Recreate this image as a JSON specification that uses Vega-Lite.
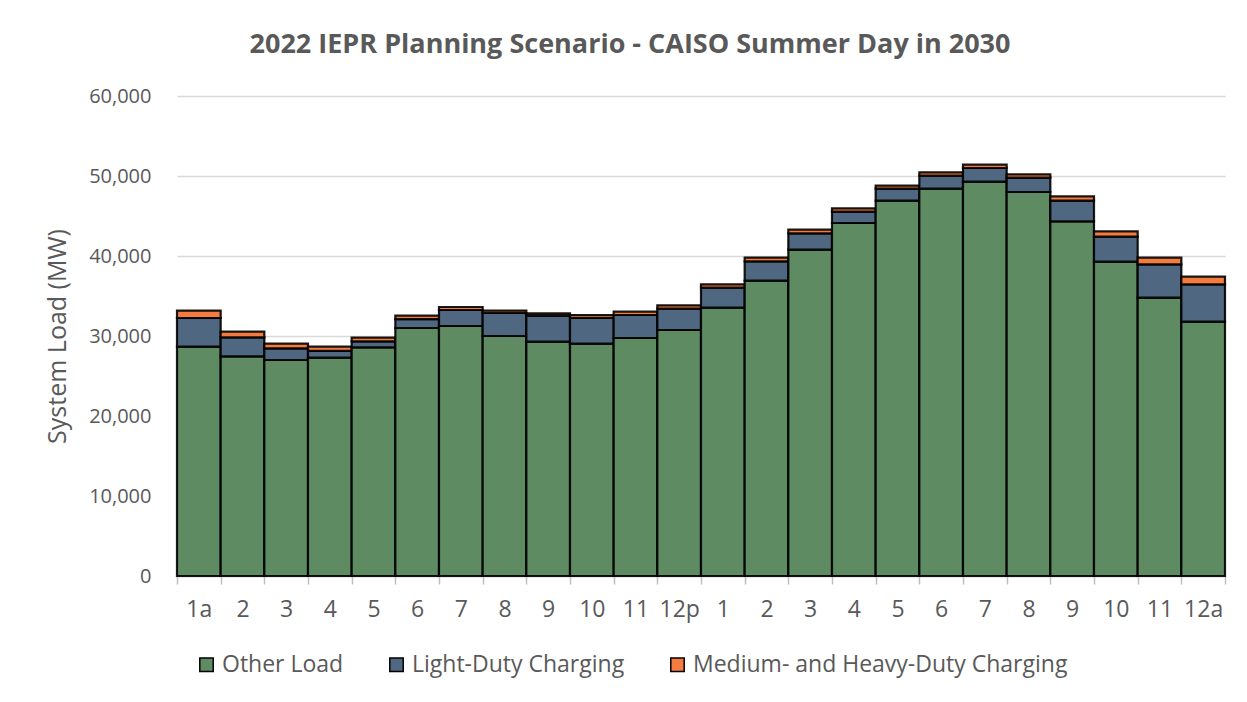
{
  "$schema": "https://vega.github.io/schema/vega-lite/v6.json",
  "autosize": "none",
  "width": 1048,
  "height": 480,
  "padding": {"left": 177, "top": 96, "right": 22, "bottom": 126},
  "background": "white",
  "config": {
    "font": "Open Sans",
    "view": {"stroke": null},
    "axis": {"labelColor": "#595959", "titleColor": "#595959", "labelFont": "Open Sans", "titleFont": "Open Sans"},
    "legend": {"labelFont": "Open Sans"}
  },
  "title": {
    "text": "2022 IEPR Planning Scenario - CAISO Summer Day in 2030",
    "font": "Open Sans",
    "fontSize": 27,
    "fontWeight": "bold",
    "color": "#595959",
    "offset": 27,
    "dx": -71
  },
  "data": {
    "values": [
      {"hour": 1, "category": "Other Load", "k": 1, "value": 28660},
      {"hour": 1, "category": "Light-Duty Charging", "k": 2, "value": 3590},
      {"hour": 1, "category": "Medium- and Heavy-Duty Charging", "k": 3, "value": 910},
      {"hour": 2, "category": "Other Load", "k": 1, "value": 27460},
      {"hour": 2, "category": "Light-Duty Charging", "k": 2, "value": 2370},
      {"hour": 2, "category": "Medium- and Heavy-Duty Charging", "k": 3, "value": 710},
      {"hour": 3, "category": "Other Load", "k": 1, "value": 27000},
      {"hour": 3, "category": "Light-Duty Charging", "k": 2, "value": 1460},
      {"hour": 3, "category": "Medium- and Heavy-Duty Charging", "k": 3, "value": 580},
      {"hour": 4, "category": "Other Load", "k": 1, "value": 27290},
      {"hour": 4, "category": "Light-Duty Charging", "k": 2, "value": 840},
      {"hour": 4, "category": "Medium- and Heavy-Duty Charging", "k": 3, "value": 540},
      {"hour": 5, "category": "Other Load", "k": 1, "value": 28580},
      {"hour": 5, "category": "Light-Duty Charging", "k": 2, "value": 750},
      {"hour": 5, "category": "Medium- and Heavy-Duty Charging", "k": 3, "value": 460},
      {"hour": 6, "category": "Other Load", "k": 1, "value": 31000},
      {"hour": 6, "category": "Light-Duty Charging", "k": 2, "value": 1120},
      {"hour": 6, "category": "Medium- and Heavy-Duty Charging", "k": 3, "value": 420},
      {"hour": 7, "category": "Other Load", "k": 1, "value": 31250},
      {"hour": 7, "category": "Light-Duty Charging", "k": 2, "value": 2000},
      {"hour": 7, "category": "Medium- and Heavy-Duty Charging", "k": 3, "value": 375},
      {"hour": 8, "category": "Other Load", "k": 1, "value": 30000},
      {"hour": 8, "category": "Light-Duty Charging", "k": 2, "value": 2875},
      {"hour": 8, "category": "Medium- and Heavy-Duty Charging", "k": 3, "value": 300},
      {"hour": 9, "category": "Other Load", "k": 1, "value": 29290},
      {"hour": 9, "category": "Light-Duty Charging", "k": 2, "value": 3250},
      {"hour": 9, "category": "Medium- and Heavy-Duty Charging", "k": 3, "value": 290},
      {"hour": 10, "category": "Other Load", "k": 1, "value": 29040},
      {"hour": 10, "category": "Light-Duty Charging", "k": 2, "value": 3210},
      {"hour": 10, "category": "Medium- and Heavy-Duty Charging", "k": 3, "value": 370},
      {"hour": 11, "category": "Other Load", "k": 1, "value": 29750},
      {"hour": 11, "category": "Light-Duty Charging", "k": 2, "value": 2875},
      {"hour": 11, "category": "Medium- and Heavy-Duty Charging", "k": 3, "value": 420},
      {"hour": 12, "category": "Other Load", "k": 1, "value": 30750},
      {"hour": 12, "category": "Light-Duty Charging", "k": 2, "value": 2670},
      {"hour": 12, "category": "Medium- and Heavy-Duty Charging", "k": 3, "value": 420},
      {"hour": 13, "category": "Other Load", "k": 1, "value": 33540},
      {"hour": 13, "category": "Light-Duty Charging", "k": 2, "value": 2500},
      {"hour": 13, "category": "Medium- and Heavy-Duty Charging", "k": 3, "value": 420},
      {"hour": 14, "category": "Other Load", "k": 1, "value": 36920},
      {"hour": 14, "category": "Light-Duty Charging", "k": 2, "value": 2420},
      {"hour": 14, "category": "Medium- and Heavy-Duty Charging", "k": 3, "value": 460},
      {"hour": 15, "category": "Other Load", "k": 1, "value": 40790},
      {"hour": 15, "category": "Light-Duty Charging", "k": 2, "value": 2040},
      {"hour": 15, "category": "Medium- and Heavy-Duty Charging", "k": 3, "value": 460},
      {"hour": 16, "category": "Other Load", "k": 1, "value": 44125},
      {"hour": 16, "category": "Light-Duty Charging", "k": 2, "value": 1420},
      {"hour": 16, "category": "Medium- and Heavy-Duty Charging", "k": 3, "value": 420},
      {"hour": 17, "category": "Other Load", "k": 1, "value": 46920},
      {"hour": 17, "category": "Light-Duty Charging", "k": 2, "value": 1500},
      {"hour": 17, "category": "Medium- and Heavy-Duty Charging", "k": 3, "value": 375},
      {"hour": 18, "category": "Other Load", "k": 1, "value": 48420},
      {"hour": 18, "category": "Light-Duty Charging", "k": 2, "value": 1620},
      {"hour": 18, "category": "Medium- and Heavy-Duty Charging", "k": 3, "value": 420},
      {"hour": 19, "category": "Other Load", "k": 1, "value": 49290},
      {"hour": 19, "category": "Light-Duty Charging", "k": 2, "value": 1710},
      {"hour": 19, "category": "Medium- and Heavy-Duty Charging", "k": 3, "value": 420},
      {"hour": 20, "category": "Other Load", "k": 1, "value": 48000},
      {"hour": 20, "category": "Light-Duty Charging", "k": 2, "value": 1790},
      {"hour": 20, "category": "Medium- and Heavy-Duty Charging", "k": 3, "value": 420},
      {"hour": 21, "category": "Other Load", "k": 1, "value": 44330},
      {"hour": 21, "category": "Light-Duty Charging", "k": 2, "value": 2580},
      {"hour": 21, "category": "Medium- and Heavy-Duty Charging", "k": 3, "value": 540},
      {"hour": 22, "category": "Other Load", "k": 1, "value": 39290},
      {"hour": 22, "category": "Light-Duty Charging", "k": 2, "value": 3125},
      {"hour": 22, "category": "Medium- and Heavy-Duty Charging", "k": 3, "value": 670},
      {"hour": 23, "category": "Other Load", "k": 1, "value": 34790},
      {"hour": 23, "category": "Light-Duty Charging", "k": 2, "value": 4170},
      {"hour": 23, "category": "Medium- and Heavy-Duty Charging", "k": 3, "value": 830},
      {"hour": 24, "category": "Other Load", "k": 1, "value": 31790},
      {"hour": 24, "category": "Light-Duty Charging", "k": 2, "value": 4670},
      {"hour": 24, "category": "Medium- and Heavy-Duty Charging", "k": 3, "value": 960}
    ]
  },
  "mark": {"type": "bar", "stroke": "#000000", "strokeWidth": 2.2, "strokeOpacity": 0.9},
  "encoding": {
    "x": {
      "field": "hour",
      "type": "ordinal",
      "scale": {"paddingInner": 0, "paddingOuter": 0},
      "axis": {
        "title": null,
        "labelAngle": 0,
        "labelFontSize": 23,
        "labelPadding": 14,
        "labelExpr": "['1a','2','3','4','5','6','7','8','9','10','11','12p','1','2','3','4','5','6','7','8','9','10','11','12a'][datum.value-1]",
        "tickBand": "extent",
        "tickSize": 8,
        "tickColor": "#BFBFBF",
        "tickWidth": 1.5,
        "domainColor": "#BFBFBF",
        "domainWidth": 1.5,
        "grid": false
      }
    },
    "y": {
      "field": "value",
      "type": "quantitative",
      "stack": "zero",
      "scale": {"domain": [0, 60000], "nice": false},
      "axis": {
        "title": "System Load (MW)",
        "titleFontSize": 25,
        "titleFontWeight": "normal",
        "titlePadding": 18,
        "values": [0, 10000, 20000, 30000, 40000, 50000, 60000],
        "format": ",.0f",
        "labelFontSize": 20,
        "labelPadding": 26,
        "domain": false,
        "ticks": false,
        "gridColor": "#D9D9D9",
        "gridWidth": 1.5
      }
    },
    "color": {
      "field": "category",
      "type": "nominal",
      "sort": ["Other Load", "Light-Duty Charging", "Medium- and Heavy-Duty Charging"],
      "scale": {
        "domain": ["Other Load", "Light-Duty Charging", "Medium- and Heavy-Duty Charging"],
        "range": ["#5E8B62", "#4F6780", "#F47C40"]
      },
      "legend": {
        "title": null,
        "orient": "none",
        "direction": "horizontal",
        "legendX": 18,
        "legendY": 557,
        "symbolType": "square",
        "symbolSize": 180,
        "symbolStrokeColor": "#000000",
        "symbolStrokeWidth": 1.5,
        "symbolOpacity": 1,
        "labelFontSize": 23,
        "labelColor": "#595959",
        "labelOffset": 4,
        "columnPadding": 41,
        "labelLimit": 600
      }
    },
    "order": {"field": "k", "type": "quantitative"}
  }
}
